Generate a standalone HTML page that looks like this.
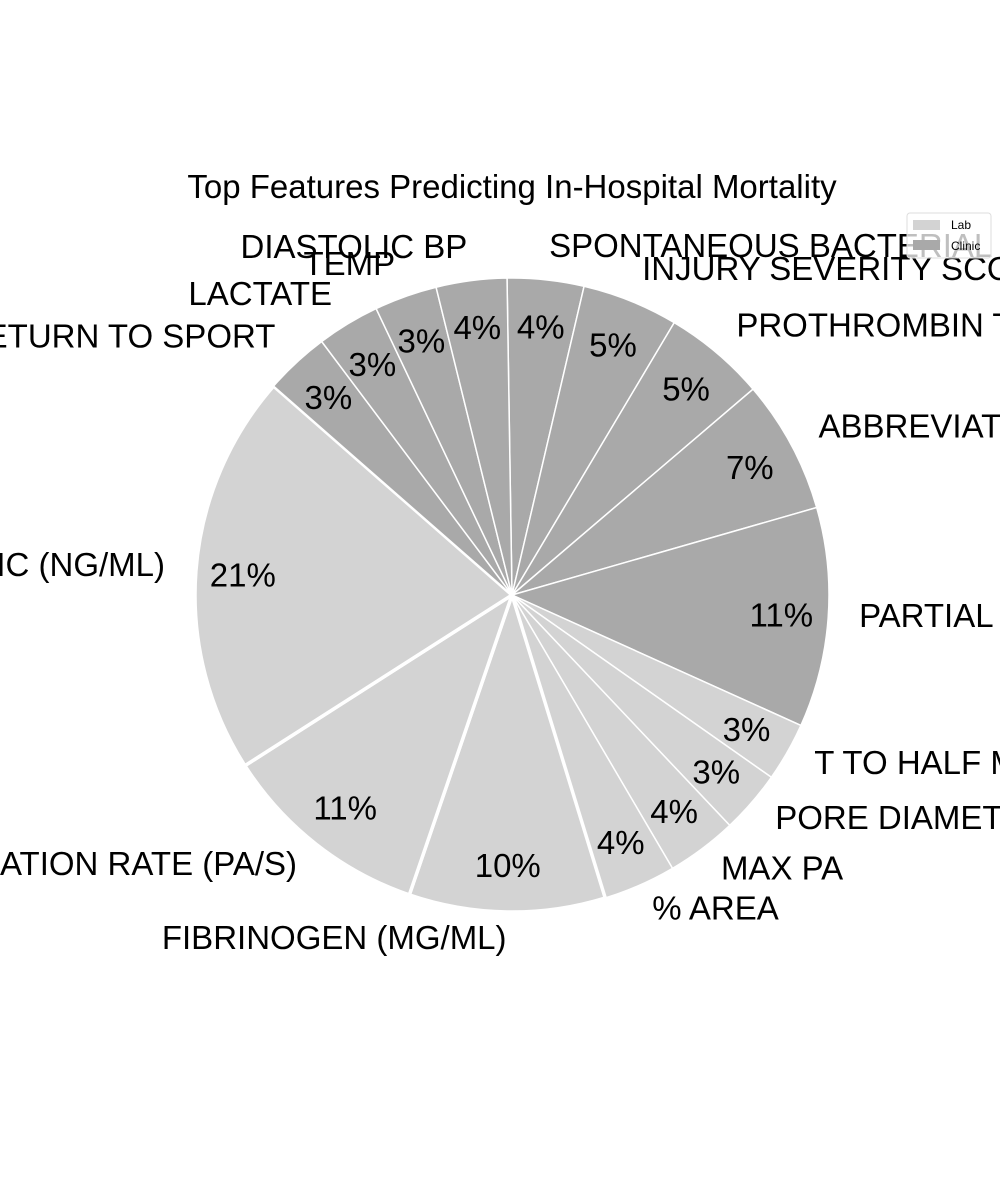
<!DOCTYPE html>
<html><head><meta charset="utf-8"><style>
html,body{margin:0;padding:0;background:#fff;}
svg{display:block;font-family:"Liberation Sans",Arial,sans-serif;}
</style></head><body>
<svg id="chart" width="1000" height="1200" viewBox="0 0 1000 1200">
<rect width="1000" height="1200" fill="#fff"/>
<text x="512" y="198" text-anchor="middle" font-size="33" fill="#000">Top Features Predicting In-Hospital Mortality</text>
<g id="slices"></g>
<g id="labels"></g>
<g>
<rect x="907" y="213" width="84" height="45" fill="rgba(255,255,255,0.75)" stroke="#ddd" stroke-width="1" rx="3"/>
<rect x="913" y="220" width="27" height="10" fill="#d3d3d3"/>
<text x="951" y="229" font-size="12" fill="#000">Lab</text>
<rect x="913" y="240" width="27" height="10" fill="#a9a9a9"/>
<text x="951" y="250" font-size="12" fill="#000">Clinic</text>
</g>
</svg>
<script>
const labels = ["SPONTANEOUS BACTERIAL PERITONITIS","INJURY SEVERITY SCORE","PROTHROMBIN TIME","ABBREVIATED INJURY SCALE","PARTIAL THROMBOPLASTIN TIME","T TO HALF MAX","PORE DIAMETER","MAX PA","% AREA","FIBRINOGEN (MG/ML)","AGGREGATION RATE (PA/S)","D-DIMER / ELASTIC (NG/ML)","RETURN TO SPORT","LACTATE","TEMP","DIASTOLIC BP"];
const values = [3.9,4.9,5.2,6.8,11.2,3.0,3.2,3.6,3.7,10.0,10.7,20.5,3.3,3.2,3.2,3.6];
const groups = ["Clinic","Clinic","Clinic","Clinic","Clinic","Lab","Lab","Lab","Lab","Lab","Lab","Lab","Clinic","Clinic","Clinic","Clinic"];
const colors = {Lab:"#d3d3d3", Clinic:"#a9a9a9"};
const NS="http://www.w3.org/2000/svg";
const cx=512, cy=595, R=317, startDeg=-0.9;
const total=values.reduce((a,b)=>a+b,0);
function pt(deg,r){const a=deg*Math.PI/180;return [cx+r*Math.sin(a), cy-r*Math.cos(a)];}
const gS=document.getElementById('slices'), gL=document.getElementById('labels');
let ang=startDeg;
values.forEach((v,i)=>{
  const sweep=v/total*360, a0=ang, a1=ang+sweep, mid=(a0+a1)/2;
  const p0=pt(a0,R), p1=pt(a1,R);
  const path=document.createElementNS(NS,'path');
  path.setAttribute('d',`M${cx},${cy} L${p0[0]},${p0[1]} A${R},${R} 0 ${sweep>180?1:0} 1 ${p1[0]},${p1[1]} Z`);
  path.setAttribute('fill',colors[groups[i]]);
  path.setAttribute('stroke','#fff');
  path.setAttribute('stroke-width', (v>=10 && groups[i]==='Lab') ? '3.5' : '1.5');
  
  
  gS.appendChild(path);
  const ip=pt(mid,270);
  const t=document.createElementNS(NS,'text');
  t.setAttribute('x',ip[0]); t.setAttribute('y',ip[1]+12);
  t.setAttribute('text-anchor','middle'); t.setAttribute('font-size','33');
  t.textContent=Math.round(v/total*100+1e-9)+'%';
  
  
  gL.appendChild(t);
  const s=Math.sin(mid*Math.PI/180), c=Math.cos(mid*Math.PI/180);
  const o=document.createElementNS(NS,'text');
  o.setAttribute('x',cx+(R+31)*s); o.setAttribute('y',cy-(R+30)*c+7);
  o.setAttribute('text-anchor', s>0.02?'start':'end');
  o.setAttribute('font-size','33');
  o.textContent=labels[i];
  
  
  gL.appendChild(o);
  ang=a1;
});
</script>
</body></html>
